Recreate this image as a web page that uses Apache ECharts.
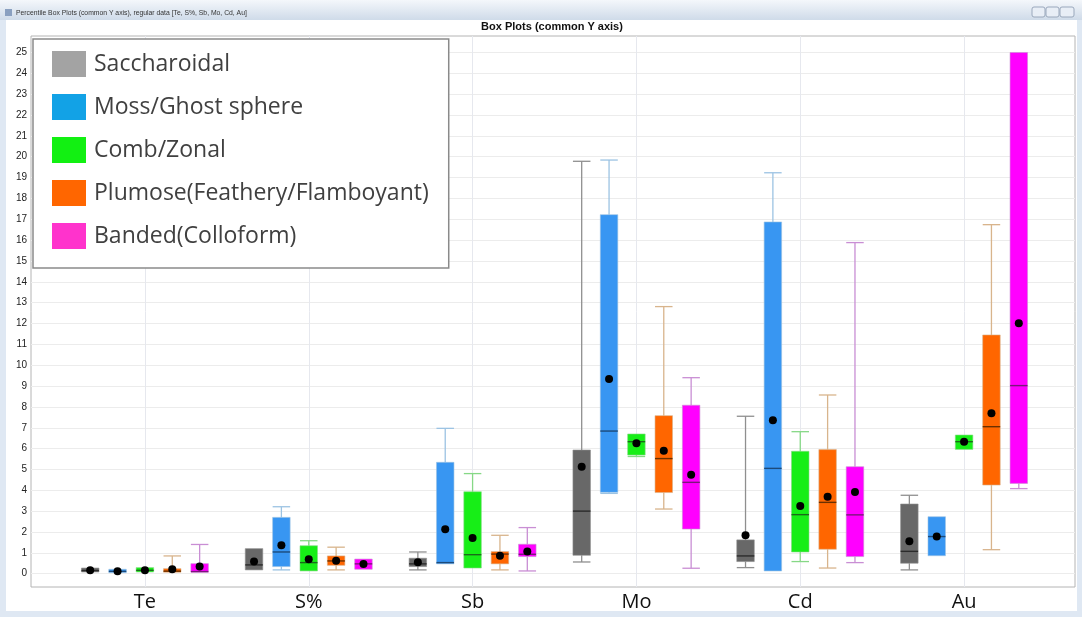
<!DOCTYPE html>
<html><head><meta charset="utf-8">
<script src="https://cdn.jsdelivr.net/npm/echarts@6/dist/echarts.min.js"></script>
<style>html,body{margin:0;padding:0;background:#fff}#c{width:1082px;height:617px}</style>
</head><body><div id="c"></div>
<script>
const categories = ['Te', 'S%', 'Sb', 'Mo', 'Cd', 'Au'];
const seriesNames = ['Saccharoidal', 'Moss/Ghost sphere', 'Comb/Zonal', 'Plumose(Feathery/Flamboyant)', 'Banded(Colloform)'];
// each row (one per category): [min, q1, median, q3, max, mean]
const saccharoidal = [
  [0.06, 0.08, 0.15, 0.27, 0.28, 0.16],
  [0.18, 0.18, 0.42, 1.20, 1.22, 0.58],
  [0.18, 0.34, 0.47, 0.74, 1.04, 0.55],
  [0.56, 0.88, 3.00, 5.93, 19.78, 5.13],
  [0.29, 0.58, 0.85, 1.62, 7.55, 1.84],
  [0.18, 0.50, 1.07, 3.34, 3.76, 1.55]
];
const mossGhost = [
  [0.05, 0.05, 0.11, 0.21, 0.21, 0.11],
  [0.18, 0.34, 1.04, 2.70, 3.21, 1.36],
  [0.47, 0.47, 0.53, 5.34, 6.97, 2.13],
  [3.85, 3.90, 6.84, 17.22, 19.84, 9.34],
  [0.10, 0.13, 5.05, 16.87, 19.23, 7.36],
  [0.86, 0.86, 1.78, 2.73, 2.73, 1.78]
];
const combZonal = [
  [0.08, 0.08, 0.16, 0.29, 0.29, 0.16],
  [0.13, 0.13, 0.53, 1.34, 1.58, 0.69],
  [0.25, 0.27, 0.91, 3.93, 4.80, 1.71],
  [5.62, 5.69, 6.33, 6.70, 6.70, 6.25],
  [0.58, 1.04, 2.83, 5.87, 6.81, 3.25],
  [5.96, 5.96, 6.33, 6.65, 6.65, 6.33]
];
const plumose = [
  [0.07, 0.07, 0.12, 0.24, 0.85, 0.21],
  [0.18, 0.40, 0.61, 0.85, 1.27, 0.62],
  [0.18, 0.47, 0.94, 1.06, 1.84, 0.86],
  [3.10, 3.89, 5.52, 7.58, 12.81, 5.90],
  [0.27, 1.17, 3.42, 5.95, 8.57, 3.69],
  [1.15, 4.25, 7.05, 11.45, 16.74, 7.69]
];
const banded = [
  [0.07, 0.07, 0.10, 0.48, 1.40, 0.34],
  [0.21, 0.21, 0.47, 0.70, 0.70, 0.46],
  [0.13, 0.82, 0.93, 1.41, 2.21, 1.06],
  [0.26, 2.14, 4.38, 8.08, 9.40, 4.75],
  [0.53, 0.82, 2.82, 5.13, 15.88, 3.92],
  [4.08, 4.33, 9.02, 25.00, 25.00, 12.01]
];
const allStats = [saccharoidal, mossGhost, combZonal, plumose, banded];

const legendColors = ['#a3a3a3', '#12a2e6', '#12f012', '#ff6600', '#ff33cc'];
const boxColors = ['#686868', '#3896f2', '#17ee17', '#ff6600', '#ff00ff'];
const whiskerColors = ['#8f8f8f', '#9cc3e3', '#86d886', '#d8b48c', '#c98ed4'];
const medianColors = ['#2b2b2b', '#1c4a7a', '#1a6a1a', '#6a3000', '#7a167a'];

function makeRender(idx) {
  return function (params, api) {
    const cat = api.value(0);
    const band = api.size([1, 0])[0];
    const n = seriesNames.length;
    const avail = band * 0.8 - 2;
    const gap = avail / n * 0.3;
    const w = (avail - gap * (n - 1)) / n;
    const off = w / 2 - avail / 2 + idx * (gap + w);
    const bw = 17.5;
    const cx = api.coord([cat, 0])[0] + off;
    const y = k => api.coord([cat, api.value(k)])[1];
    const yMin = y(1), yQ1 = y(2), yMed = y(3), yQ3 = y(4), yMax = y(5), yMean = y(6);
    const ws = { stroke: whiskerColors[idx], lineWidth: 1.3 };
    const ch = [];
    if (yQ3 - yMax > 1) {
      ch.push({ type: 'line', shape: { x1: cx, y1: yQ3, x2: cx, y2: yMax }, style: ws });
      ch.push({ type: 'line', shape: { x1: cx - bw / 2, y1: yMax, x2: cx + bw / 2, y2: yMax }, style: ws });
    }
    if (yMin - yQ1 > 1) {
      ch.push({ type: 'line', shape: { x1: cx, y1: yQ1, x2: cx, y2: yMin }, style: ws });
      ch.push({ type: 'line', shape: { x1: cx - bw / 2, y1: yMin, x2: cx + bw / 2, y2: yMin }, style: ws });
    }
    ch.push({ type: 'rect', shape: { x: cx - bw / 2, y: yQ3, width: bw, height: Math.max(yQ1 - yQ3, 3) },
      style: { fill: boxColors[idx], stroke: whiskerColors[idx], lineWidth: 0.6 } });
    ch.push({ type: 'line', shape: { x1: cx - bw / 2, y1: yMed, x2: cx + bw / 2, y2: yMed },
      style: { stroke: medianColors[idx], lineWidth: 1.4 } });
    ch.push({ type: 'circle', shape: { cx: cx, cy: yMean, r: 4 }, style: { fill: '#000' } });
    return { type: 'group', children: ch };
  };
}

const series = allStats.map((rows, idx) => ({
  type: 'custom',
  name: seriesNames[idx],
  xAxisIndex: 2, yAxisIndex: 2,
  itemStyle: { color: legendColors[idx] },
  encode: { x: 0, y: [1, 2, 3, 4, 5, 6] },
  data: rows.map((r, i) => [i].concat(r)),
  renderItem: makeRender(idx),
  z: 3
}));

const chart = echarts.init(document.getElementById('c'), null, { renderer: 'canvas' });
chart.setOption({
  backgroundColor: '#dfe8f3',
  animation: false,
  graphic: [
    { type: 'rect', shape: { x: 6, y: 20, width: 1071, height: 591 }, style: { fill: '#ffffff' }, z: -10 },
    { type: 'rect', shape: { x: 0, y: 0, width: 1082, height: 20 }, z: -10,
      style: { fill: new echarts.graphic.LinearGradient(0, 0, 0, 1, [{ offset: 0, color: '#f4f7fb' }, { offset: 1, color: '#cfdbe9' }]) } },
    { type: 'rect', shape: { x: 5, y: 9, width: 7, height: 7 }, style: { fill: '#8aa0c0' }, z: -9 },
    { type: 'text', x: 16, y: 13, style: { text: 'Percentile Box Plots (common Y axis), regular data [Te, S%, Sb, Mo, Cd, Au]', font: '6.8px "Liberation Sans"', fill: '#333', textVerticalAlign: 'middle' }, z: -9 },
    { type: 'rect', shape: { x: 1032, y: 7, width: 13, height: 10, r: 2 }, style: { fill: '#e8eef6', stroke: '#9aa8bc' }, z: -9 },
    { type: 'rect', shape: { x: 1046, y: 7, width: 13, height: 10, r: 2 }, style: { fill: '#e8eef6', stroke: '#9aa8bc' }, z: -9 },
    { type: 'rect', shape: { x: 1060, y: 7, width: 14, height: 10, r: 2 }, style: { fill: '#e8eef6', stroke: '#9aa8bc' }, z: -9 },
    { type: 'text', x: 552, y: 27, style: { text: 'Box Plots (common Y axis)', font: 'bold 11px "Liberation Sans"', fill: '#111', textAlign: 'center', textVerticalAlign: 'middle' } }
  ],
  legend: {
    orient: 'vertical', left: 33, top: 39,
    itemWidth: 34, itemHeight: 26, itemGap: 17,
    padding: [12, 20, 19, 19],
    backgroundColor: '#ffffff', borderColor: '#8a8a8a', borderWidth: 1.5,
    icon: 'rect', selectedMode: false,
    textStyle: { fontFamily: 'Open Sans', fontSize: 23, lineHeight: 20, color: '#404040', padding: [6, 0, 0, 3] },
    data: seriesNames.map((nm, i) => ({ name: nm, itemStyle: { color: legendColors[i] } })),
    z: 10
  },
  grid: [
    { left: 31, right: 7, top: 36, bottom: 30, show: true, borderColor: '#b4b4b4', borderWidth: 1, backgroundColor: 'transparent', containLabel: false },
    { left: 31, right: 7, top: 31.6, bottom: 22.45, containLabel: false },
    { left: 63, right: 36, top: 36, bottom: 30, containLabel: false }
  ],
  xAxis: [
    { gridIndex: 0, type: 'value', show: false, min: 0, max: 1 },
    { gridIndex: 1, type: 'value', show: false, min: 0, max: 1 },
    { gridIndex: 2, type: 'category', data: categories, boundaryGap: true,
      axisLine: { show: false }, axisTick: { show: false },
      axisLabel: { fontFamily: 'Open Sans', fontSize: 20, color: '#111', margin: 5 },
      splitLine: { show: true, alignWithLabel: true, lineStyle: { color: '#e6e8ee', width: 1 } } }
  ],
  yAxis: [
    { gridIndex: 0, type: 'value', show: false, min: 0, max: 1 },
    { gridIndex: 1, type: 'value', min: -1, max: 26, interval: 1,
      axisLine: { show: false }, axisTick: { show: false },
      axisLabel: { fontFamily: 'Liberation Sans', fontSize: 10, color: '#222', margin: 4,
        showMinLabel: false, showMaxLabel: false,
        formatter: v => (v < 0 || v > 25) ? '' : String(v) },
      splitLine: { show: true, showMinLine: false, showMaxLine: false, lineStyle: { color: '#ececec', width: 1 } } },
    { gridIndex: 2, type: 'value', show: false, min: -0.64, max: 25.79 }
  ],
  series: series
});
</script>
</body></html>
